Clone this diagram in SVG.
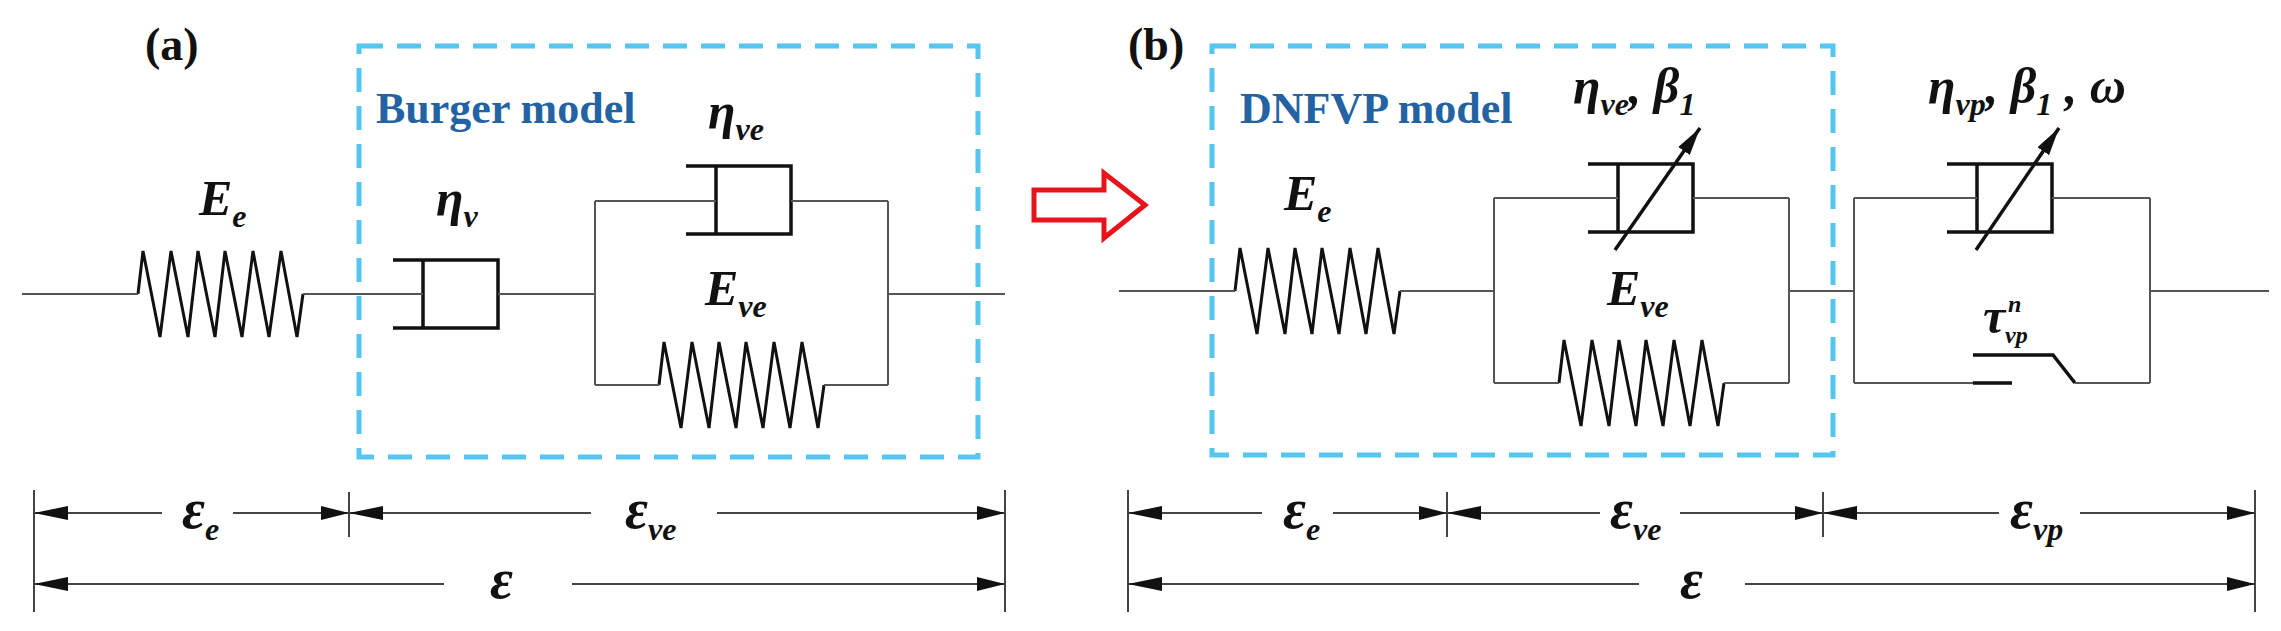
<svg xmlns="http://www.w3.org/2000/svg" xmlns:xlink="http://www.w3.org/1999/xlink" width="2281" height="631" viewBox="0 0 2281 631">
<style>
.w{fill:none;stroke:#555;stroke-width:2}
.k{fill:none;stroke:#111;stroke-width:3.5;stroke-linejoin:miter}
.sp{fill:none;stroke:#111;stroke-width:3}
.box{fill:none;stroke:#55c6ef;stroke-width:5;stroke-dasharray:24 14}
.d{fill:none;stroke:#444;stroke-width:2}
.m{font-family:"Liberation Serif",serif;font-weight:bold;font-style:italic;fill:#111;font-size:50px}
.s{font-size:32px}
.t{font-family:"Liberation Serif",serif;font-weight:bold;fill:#111;font-size:46px}
.bl{font-family:"Liberation Serif",serif;font-weight:bold;fill:#2463a3;font-size:44px}
</style>
<defs>
<path id="spring" class="sp" d="M0,0 L5,-43 L22,43 L33,-43 L50,43 L60,-43 L77,43 L87,-43 L104,43 L115,-43 L131,43 L143,-43 L159,43 L165,0"/>
<path id="dash" class="k" d="M0,-34 H105 V34 H0 M30,-34 V34"/>
<marker id="ar" markerUnits="userSpaceOnUse" markerWidth="36" markerHeight="16" refX="34" refY="8" orient="auto-start-reverse" viewBox="0 0 36 16"><path d="M0,1 L34,8 L0,15 Z" fill="#111"/></marker>
<marker id="ah" markerUnits="userSpaceOnUse" markerWidth="30" markerHeight="16" refX="28" refY="8" orient="auto" viewBox="0 0 30 16"><path d="M0,1 L28,8 L0,15 Z" fill="#111"/></marker>
</defs>

<g id="panel-a-label"><text class="t" x="145" y="60">(a)</text></g>
<g id="burger-box"><rect class="box" x="359" y="46" width="619" height="411"/><text class="bl" x="376" y="123">Burger model</text></g>
<g id="a-Ee"><use xlink:href="#spring" x="138" y="294"/><text class="m" x="199" y="215">E<tspan class="s" dy="12">e</tspan></text></g>
<g id="a-eta-v"><use xlink:href="#dash" x="393" y="294"/><text class="m" x="436" y="215">η<tspan class="s" dy="12">v</tspan></text></g>
<g id="a-eta-ve"><use xlink:href="#dash" x="686" y="200"/><text class="m" x="708" y="128">η<tspan class="s" dy="12">ve</tspan></text></g>
<g id="a-Eve"><use xlink:href="#spring" x="659" y="385"/><text class="m" x="705" y="305">E<tspan class="s" dy="12">ve</tspan></text></g>

<g id="arrow-red"><polygon points="1034,190 1104,190 1104,173 1145,205 1104,238 1104,220 1034,220" fill="#fff" stroke="#e8141b" stroke-width="5"/></g>

<g id="panel-b-label"><text class="t" x="1128" y="60">(b)</text></g>
<g id="dnfvp-box"><rect class="box" x="1212" y="46" width="621" height="409"/><text class="bl" x="1240" y="123">DNFVP model</text></g>
<g id="b-Ee"><use xlink:href="#spring" x="1235" y="291"/><text class="m" x="1284" y="210">E<tspan class="s" dy="12">e</tspan></text></g>
<g id="b-eta-ve"><use xlink:href="#dash" x="1588" y="198"/><line x1="1615" y1="250" x2="1700" y2="128" stroke="#111" stroke-width="3.5" marker-end="url(#ah)"/><text class="m" x="1573" y="103">η<tspan class="s" dy="12">ve</tspan><tspan dy="-12">, β</tspan><tspan class="s" dy="12">1</tspan></text></g>
<g id="b-Eve"><use xlink:href="#spring" x="1559" y="383"/><text class="m" x="1607" y="305">E<tspan class="s" dy="12">ve</tspan></text></g>
<g id="b-eta-vp"><use xlink:href="#dash" x="1947" y="198"/><line x1="1976" y1="250" x2="2059" y2="128" stroke="#111" stroke-width="3.5" marker-end="url(#ah)"/><text class="m" x="1928" y="103">η<tspan class="s" dy="12">vp</tspan><tspan dy="-12">, β</tspan><tspan class="s" dy="12">1</tspan><tspan dy="-12"> , ω</tspan></text></g>
<g id="b-switch"><path class="k" d="M1973,383 H2012 M1973,355 H2053 L2075,383"/><text class="m" x="1983" y="333">τ</text><text class="m" style="font-size:24px" x="2008" y="312">n</text><text class="m" style="font-size:24px" x="2005" y="343">vp</text></g>

<g id="connectors">
<path class="w" d="M22,294 H138 M303,294 H423 M498,294 H595 M595,201 V385 M595,201 H716 M791,201 H888 M888,201 V385 M595,385 H659 M824,385 H888 M888,294 H1005"/>
<path class="w" d="M1119,291 H1235 M1400,291 H1494 M1494,198 V383 M1494,198 H1618 M1693,198 H1789 M1789,198 V383 M1494,383 H1559 M1724,383 H1789 M1789,291 H1854 M1854,198 V383 M1854,198 H1977 M2052,198 H2150 M2150,198 V383 M1854,383 H1973 M2075,383 H2150 M2150,291 H2269"/>
</g>

<g id="dimensions">
<path class="d" d="M34,490 V612 M349,492 V537 M1005,490 V612 M1128,490 V612 M1447,492 V537 M1823,492 V537 M2255,490 V612"/>
<line class="d" x1="34" y1="513" x2="162" y2="513" marker-start="url(#ar)"/>
<line class="d" x1="233" y1="513" x2="349" y2="513" marker-end="url(#ah)"/>
<line class="d" x1="349" y1="513" x2="591" y2="513" marker-start="url(#ar)"/>
<line class="d" x1="717" y1="513" x2="1005" y2="513" marker-end="url(#ah)"/>
<line class="d" x1="34" y1="584" x2="444" y2="584" marker-start="url(#ar)"/>
<line class="d" x1="572" y1="584" x2="1005" y2="584" marker-end="url(#ah)"/>
<line class="d" x1="1128" y1="513" x2="1262" y2="513" marker-start="url(#ar)"/>
<line class="d" x1="1333" y1="513" x2="1447" y2="513" marker-end="url(#ah)"/>
<line class="d" x1="1447" y1="513" x2="1600" y2="513" marker-start="url(#ar)"/>
<line class="d" x1="1680" y1="513" x2="1823" y2="513" marker-end="url(#ah)"/>
<line class="d" x1="1823" y1="513" x2="1999" y2="513" marker-start="url(#ar)"/>
<line class="d" x1="2080" y1="513" x2="2255" y2="513" marker-end="url(#ah)"/>
<line class="d" x1="1128" y1="584" x2="1639" y2="584" marker-start="url(#ar)"/>
<line class="d" x1="1745" y1="584" x2="2255" y2="584" marker-end="url(#ah)"/>
<text class="m" x="182" y="528" style="font-size:56px">ε<tspan class="s" dy="12">e</tspan></text>
<text class="m" x="625" y="528" style="font-size:56px">ε<tspan class="s" dy="12">ve</tspan></text>
<text class="m" x="490" y="598" style="font-size:56px">ε</text>
<text class="m" x="1283" y="528" style="font-size:56px">ε<tspan class="s" dy="12">e</tspan></text>
<text class="m" x="1610" y="528" style="font-size:56px">ε<tspan class="s" dy="12">ve</tspan></text>
<text class="m" x="2010" y="528" style="font-size:56px">ε<tspan class="s" dy="12">vp</tspan></text>
<text class="m" x="1680" y="598" style="font-size:56px">ε</text>
</g>
</svg>
